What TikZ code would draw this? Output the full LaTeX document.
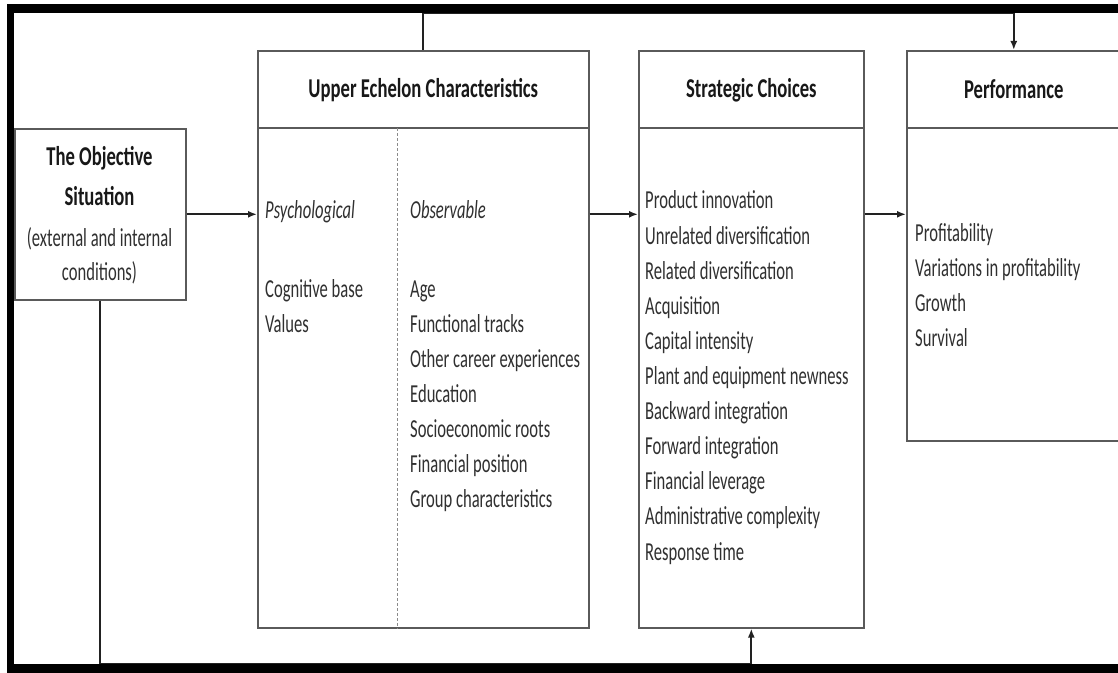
\documentclass[tikz,border=0pt]{standalone}
\usepackage{fontspec}
\usetikzlibrary{arrows.meta}
\setmainfont[FakeStretch=0.64]{Carlito}
\newfontfamily\headfont[FakeStretch=0.685]{Carlito}
\definecolor{boxline}{HTML}{5A5A5A}
\definecolor{wire}{HTML}{222222}
\definecolor{headtext}{HTML}{181818}
\definecolor{bodytext}{HTML}{303030}
\begin{document}
\begin{tikzpicture}[x=1bp,y=-1bp,
  box/.style={draw=boxline, line width=1.6bp, fill=white, anchor=north west, inner sep=0pt},
  hdr/.style={font=\headfont\fontsize{27.3}{30}\selectfont\bfseries, text=headtext, anchor=base, inner sep=0pt},
  item/.style={font=\fontsize{26}{30}\selectfont, text=bodytext, anchor=base west, inner sep=0pt},
  sub/.style={font=\fontsize{26}{30}\selectfont\itshape, text=bodytext, anchor=base west, inner sep=0pt},
  wireline/.style={draw=wire, line width=1.8bp},
  arr/.style={wireline, -{Latex[length=9bp,width=7bp]}}]
\useasboundingbox (0,0) rectangle (1118,673);
\clip (0,0) rectangle (1118,673);

% boxes
\node[box, minimum width=171bp, minimum height=171bp] (obj) at (14,128) {};
\node[box, minimum width=331bp, minimum height=577bp] (ue) at (257,50) {};
\node[box, minimum width=225bp, minimum height=577bp] (sc) at (638,50) {};
\node[box, minimum width=214bp, minimum height=390bp] (perf) at (906,50) {};

% header rules
\foreach \b in {ue,sc,perf}
  \draw[boxline, line width=1.6bp] ([yshift=-78bp]\b.north west) -- ([yshift=-78bp]\b.north east);
% split between psychological and observable
\draw[boxline!70, line width=0.9bp, dash pattern=on 3bp off 2bp]
  ([xshift=140bp,yshift=-78bp]ue.north west) -- ([xshift=140bp]ue.south west);

% headers
\node[hdr] (ueh) at ([yshift=-48bp]ue.north) {Upper Echelon Characteristics};
\node[hdr] (sch) at ([yshift=-48bp]sc.north) {Strategic Choices};
\node[hdr] (perfh) at ([yshift=-49bp]perf.north) {Performance};

% objective situation
\node[hdr] (obj1) at (99.5,166) {The Objective};
\node[hdr] (obj2) at (99.5,206) {Situation};
\node[item, anchor=base] (obj3) at (99.5,246) {(external and internal};
\node[item, anchor=base] (obj4) at (99.5,280) {conditions)};

% upper echelon characteristics
\node[sub] (psy) at (265,219) {Psychological};
\node[sub] (obs) at (410,219) {Observable};
\foreach \t [count=\i from 0] in {Cognitive base, Values}
  \node[item] (psy\i) at (265,297+35.1*\i) {\t};
\foreach \t [count=\i from 0] in {Age, Functional tracks, Other career experiences, Education,
    Socioeconomic roots, Financial position, Group characteristics}
  \node[item] (obs\i) at (410,297+35.1*\i) {\t};

% strategic choices
\foreach \t [count=\i from 0] in {Product innovation, Unrelated diversification,
    Related diversification, Acquisition, Capital intensity, Plant and equipment newness,
    Backward integration, Forward integration, Financial leverage,
    Administrative complexity, Response time}
  \node[item] (sc\i) at (645,209+35.1*\i) {\t};

% performance
\foreach \t [count=\i from 0] in {Profitability, Variations in profitability, Growth, Survival}
  \node[item] (pf\i) at (915,241.5+35*\i) {\t};

% main flow
\draw[arr] (obj.east) -- (obj.east -| ue.west);
\draw[arr] (ue.east |- obj.east) -- (sc.west |- obj.east);
\draw[arr] (sc.east |- obj.east) -- (perf.west |- obj.east);

% feedback loops
\draw[arr] (ue.north) -- ++(0,-37) -| (perf.north);
\draw[arr] (obj.south) -- ++(0,363) -| (sc.south);

% heavy frame
\fill[black] (7,4) rectangle (14,673);
\fill[black] (7,4) rectangle (1118,13);
\fill[black] (7,663.5) rectangle (1118,673);
\end{tikzpicture}
\end{document}
